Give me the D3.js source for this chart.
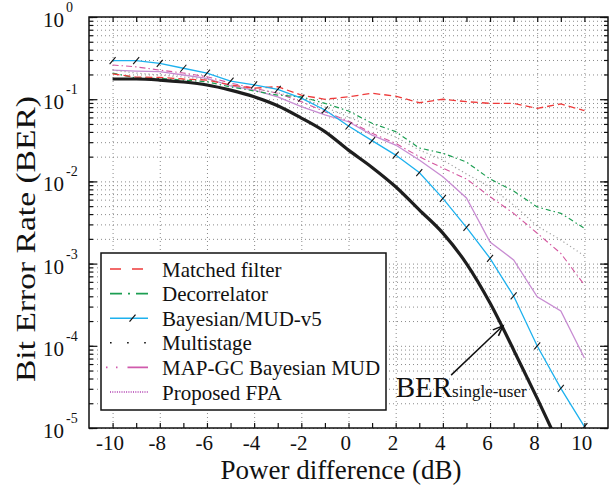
<!DOCTYPE html>
<html>
<head>
<meta charset="utf-8">
<script src="https://cdn.jsdelivr.net/npm/d3@7"></script>
<style>
  body { margin: 0; background: #fff; }
  svg { display: block; font-family: "Liberation Serif", "Times New Roman", serif; }
</style>
</head>
<body>
<div id="chart"></div>
<script>
// power difference in dB (x values shared by every curve)
const powerDiff = [-10, -9, -8, -7, -6, -5, -4, -3, -2, -1, 0, 1, 2, 3, 4, 5, 6, 7, 8, 9, 10];

// BER
const matchedFilter = [0.203, 0.186, 0.184, 0.176, 0.171, 0.149, 0.136, 0.142, 0.112, 0.0998, 0.107,
  0.118, 0.109, 0.0906, 0.0998, 0.0933, 0.0891, 0.0891, 0.0774, 0.0875, 0.0724];
const decorrelator = [0.208, 0.181, 0.179, 0.171, 0.163, 0.141, 0.126, 0.112, 0.107, 0.0891, 0.0718,
  0.0509, 0.0403, 0.0255, 0.0220, 0.0172, 0.0107, 0.00764, 0.00489, 0.00409, 0.00269];
const bayesianMud = [0.294, 0.294, 0.273, 0.238, 0.207, 0.166, 0.149, 0.132, 0.103, 0.0740, 0.0472,
  0.0313, 0.0209, 0.0128, 0.00622, 0.00276, 0.00116, 0.000404, 0.0000995, 0.0000304, 0.0000104];
const multistage = [0.226, 0.208, 0.197, 0.186, 0.176, 0.149, 0.133, 0.119, 0.104, 0.0804, 0.0607,
  0.0459, 0.0347, 0.0241, 0.0182, 0.0123, 0.00855, 0.00516, 0.00286, 0.00194, 0.00124];
const mapGcBayesian = [0.261, 0.247, 0.226, 0.208, 0.188, 0.157, 0.136, 0.118, 0.0933, 0.0705, 0.0543,
  0.0385, 0.0290, 0.0200, 0.0145, 0.0107, 0.00652, 0.00409, 0.00234, 0.00133, 0.00055];
const proposedFpa = [0.226, 0.220, 0.216, 0.197, 0.179, 0.145, 0.129, 0.107, 0.0811, 0.0643, 0.0532,
  0.0366, 0.0277, 0.0182, 0.0114, 0.00628, 0.00183, 0.00111, 0.000395, 0.000265, 0.0000711];
// single-user bound, last point falls below the axis and is clipped
const singleUserDb = [-10, -9, -8, -7, -6, -5, -4, -3, -2, -1, 0, 1, 2, 3, 4, 5, 6, 7, 8, 9];
const singleUser = [0.176, 0.176, 0.171, 0.162, 0.149, 0.129, 0.107, 0.0832, 0.0590, 0.0403, 0.0240,
  0.0148, 0.0086, 0.00450, 0.00235, 0.00100, 0.000331, 0.0000891, 0.0000229, 0.0000056];

const xLabelTicks = [-10, -8, -6, -4, -2, 0, 2, 4, 6, 8, 10];
const xMinorTicks = d3.range(-10, 11, 1);
const yDecades = [1, 1e-1, 1e-2, 1e-3, 1e-4, 1e-5];
const yExponents = ["0", "-1", "-2", "-3", "-4", "-5"];

const series = [
  { name: "Proposed FPA", values: proposedFpa, color: "#c88cd2", width: 1.3, dash: null,
    legendColor: "#b03cb0", legendDash: "1,1.3" },
  { name: "MAP-GC Bayesian MUD", values: mapGcBayesian, color: "#d4559f", width: 1.1, dash: "6,3,1.5,3",
    legendColor: "#d05aac", legendDash: "1.5,8.5,1.5,10,22" },
  { name: "Multistage", values: multistage, color: "#a0a0a0", width: 1.2, dash: "1.2,2.8",
    legendColor: "#111", legendDash: "1.6,15.5" },
  { name: "Decorrelator", values: decorrelator, color: "#1c9e52", width: 1.2, dash: "5,3,1.5,3",
    legendDash: "12,6,2,6" },
  { name: "Matched filter", values: matchedFilter, color: "#ee3a3a", width: 1.3, dash: "7,4",
    legendDash: "11,11" },
  { name: "Bayesian/MUD-v5", values: bayesianMud, color: "#1db1ee", width: 1.3, dash: null, marker: true }
];
const legendOrder = ["Matched filter", "Decorrelator", "Bayesian/MUD-v5", "Multistage",
  "MAP-GC Bayesian MUD", "Proposed FPA"];

const width = 609, height = 498;
const margin = { top: 17, right: 1, bottom: 70, left: 89 };
const plotW = width - margin.left - margin.right;
const plotH = height - margin.top - margin.bottom;

const svg = d3.select("#chart").append("svg")
  .attr("width", width)
  .attr("height", height);

const x = d3.scaleLinear().domain([-11, 11]).range([0, plotW]);
const y = d3.scaleLog().domain([1e-5, 1]).range([plotH, 0]);

const g = svg.append("g").attr("transform", `translate(${margin.left},${margin.top})`);

svg.append("defs").append("clipPath").attr("id", "plot-clip")
  .append("rect").attr("width", plotW).attr("height", plotH);

// dotted grid
const gridX = g.append("g")
  .call(d3.axisBottom(x).tickValues(xLabelTicks).tickSize(plotH).tickFormat(""));
const gridY = g.append("g")
  .call(d3.axisRight(y).tickValues(y.ticks()).tickSize(plotW).tickFormat(""));
[gridX, gridY].forEach(grid => {
  grid.select(".domain").remove();
  grid.selectAll("line")
    .attr("stroke", "#8a8a8a")
    .attr("stroke-width", 1)
    .attr("stroke-dasharray", "1,3");
});

// curves
const line = d3.line()
  .x((d, i) => x(powerDiff[i]))
  .y(d => y(d));

const curves = g.append("g").attr("clip-path", "url(#plot-clip)");

series.forEach(s => {
  curves.append("path")
    .datum(s.values)
    .attr("fill", "none")
    .attr("stroke", s.color)
    .attr("stroke-width", s.width)
    .attr("stroke-dasharray", s.dash)
    .attr("d", line);

  if (s.marker) {
    curves.selectAll(null)
      .data(s.values)
      .join("line")
      .attr("x1", (d, i) => x(powerDiff[i]) - 3)
      .attr("x2", (d, i) => x(powerDiff[i]) + 3)
      .attr("y1", d => y(d) + 3.5)
      .attr("y2", d => y(d) - 3.5)
      .attr("stroke", "#111")
      .attr("stroke-width", 1.1);
  }
});

curves.append("path")
  .datum(singleUser)
  .attr("fill", "none")
  .attr("stroke", "#1e1e1e")
  .attr("stroke-width", 3.2)
  .attr("d", d3.line()
    .x((d, i) => x(singleUserDb[i]))
    .y(d => y(d))
    .curve(d3.curveMonotoneX));

// axis ticks on all four sides, pointing inward
const bottomAxis = g.append("g")
  .attr("transform", `translate(0,${plotH})`)
  .call(d3.axisBottom(x).tickValues(xMinorTicks).tickSize(-5).tickPadding(7)
    .tickFormat(d => d % 2 === 0 ? String(d) : ""));
const topAxis = g.append("g")
  .call(d3.axisTop(x).tickValues(xMinorTicks).tickSize(-5).tickFormat(""));
const leftMinor = g.append("g")
  .call(d3.axisLeft(y).tickValues(y.ticks()).tickSize(-4).tickFormat(""));
const leftMajor = g.append("g")
  .call(d3.axisLeft(y).tickValues(yDecades).tickSize(-8).tickFormat(""));
const rightMinor = g.append("g")
  .attr("transform", `translate(${plotW},0)`)
  .call(d3.axisRight(y).tickValues(y.ticks()).tickSize(-4).tickFormat(""));
const rightMajor = g.append("g")
  .attr("transform", `translate(${plotW},0)`)
  .call(d3.axisRight(y).tickValues(yDecades).tickSize(-8).tickFormat(""));

[bottomAxis, topAxis, leftMinor, leftMajor, rightMinor, rightMajor].forEach(ax => {
  ax.select(".domain").remove();
  ax.selectAll(".tick line").attr("stroke", "#111").attr("stroke-width", 1.2);
});

bottomAxis.selectAll(".tick text")
  .attr("fill", "#111")
  .attr("dx", "-0.15em")
  .style("font-size", "21px")
  .style("font-family", "'Liberation Serif', serif");

// frame
g.append("rect")
  .attr("width", plotW)
  .attr("height", plotH)
  .attr("fill", "none")
  .attr("stroke", "#111")
  .attr("stroke-width", 1.5);

// y tick labels: 10^k
const yLabels = g.append("g")
  .selectAll("text")
  .data(yDecades)
  .join("text")
  .attr("x", -46)
  .attr("y", d => y(d) + 10)
  .attr("fill", "#111")
  .style("font-size", "21px");
yLabels.append("tspan").text("10");
yLabels.append("tspan")
  .attr("dx", 2)
  .attr("dy", -15)
  .style("font-size", "14px")
  .text((d, i) => yExponents[i]);

// axis titles
svg.append("text")
  .attr("x", 341)
  .attr("y", 479)
  .attr("text-anchor", "middle")
  .attr("fill", "#111")
  .style("font-size", "27px")
  .text("Power difference (dB)");

svg.append("text")
  .attr("transform", "translate(35,239) rotate(-90)")
  .attr("text-anchor", "middle")
  .attr("fill", "#111")
  .attr("textLength", 286)
  .attr("lengthAdjust", "spacingAndGlyphs")
  .style("font-size", "27px")
  .text("Bit Error Rate (BER)");

// legend
const legend = g.append("g").attr("transform", "translate(12,236)");
legend.append("rect")
  .attr("width", 285)
  .attr("height", 157)
  .attr("fill", "#fff")
  .attr("stroke", "#111")
  .attr("stroke-width", 1.5);

const rows = legend.selectAll(".row")
  .data(legendOrder.map(name => series.find(s => s.name === name)))
  .join("g")
  .attr("class", "row")
  .attr("transform", (d, i) => `translate(0,${16 + i * 24.6})`);

rows.append("line")
  .attr("x1", d => d.name === "MAP-GC Bayesian MUD" ? 5 : 9)
  .attr("x2", 47)
  .attr("stroke", d => d.legendColor || d.color)
  .attr("stroke-width", 1.6)
  .attr("stroke-dasharray", d => d.legendDash || null);

rows.filter(d => d.marker).append("line")
  .attr("x1", 28.5).attr("x2", 34.5)
  .attr("y1", 3.5).attr("y2", -3.5)
  .attr("stroke", "#111")
  .attr("stroke-width", 1.2);

rows.append("text")
  .attr("x", 61)
  .attr("y", 7.5)
  .attr("fill", "#111")
  .style("font-size", "21px")
  .text(d => d.name);

// BER single-user annotation
const arrowTip = [x(6.55), y(1.75e-4)];
const arrowTail = [x(4.35), y(4.4e-5)];
const annot = g.append("g");
annot.append("line")
  .attr("x1", arrowTail[0]).attr("y1", arrowTail[1])
  .attr("x2", arrowTip[0]).attr("y2", arrowTip[1])
  .attr("stroke", "#111")
  .attr("stroke-width", 1.5);
const ang = Math.atan2(arrowTip[1] - arrowTail[1], arrowTip[0] - arrowTail[0]);
const headLen = 11, spread = 0.38;
annot.append("path")
  .attr("d", d3.line()([
    [arrowTip[0] - headLen * Math.cos(ang - spread), arrowTip[1] - headLen * Math.sin(ang - spread)],
    arrowTip,
    [arrowTip[0] - headLen * Math.cos(ang + spread), arrowTip[1] - headLen * Math.sin(ang + spread)]
  ]))
  .attr("fill", "none")
  .attr("stroke", "#111")
  .attr("stroke-width", 1.5);

const annotText = annot.append("text")
  .attr("x", x(2.0))
  .attr("y", y(2.35e-5))
  .attr("fill", "#111");
annotText.append("tspan").style("font-size", "29px").text("BER");
annotText.append("tspan").style("font-size", "17px").text("single-user");
</script>
</body>
</html>
